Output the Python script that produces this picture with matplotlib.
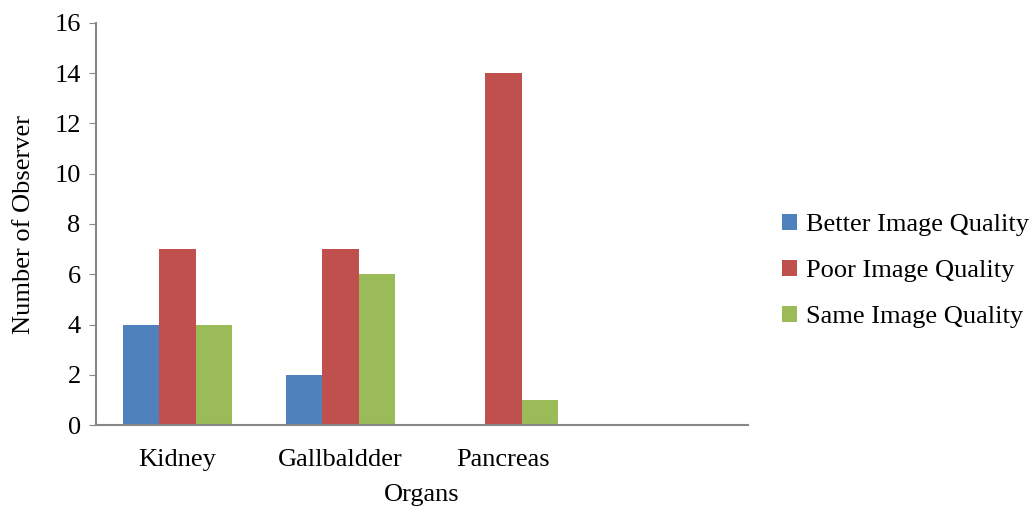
import numpy as np
from matplotlib import pyplot as plt

plt.rcParams['font.family'] = ['Liberation Serif', 'DejaVu Serif']

# Data
organs = ['Kidney', 'Gallbaldder', 'Pancreas', '']
better = [4, 2, 0, 0]
poor = [7, 7, 14, 0]
same = [4, 6, 1, 0]
series_names = ['Better Image Quality', 'Poor Image Quality', 'Same Image Quality']
colors = ['#4f81bd', '#c0504d', '#9bbb59']

fig = plt.figure(figsize=(10.36, 5.08), dpi=100)
ax = fig.add_axes([96 / 1036, (508 - 425) / 508, (748 - 96) / 1036, (425 - 23) / 508])

x = np.arange(len(organs))
w = 1 / 4.5
for i, (vals, name, c) in enumerate(zip([better, poor, same], series_names, colors)):
    ax.bar(x + (i - 1) * w, vals, width=w, color=c, label=name)

ax.set_xlim(-0.5, len(organs) - 0.5)
ax.set_ylim(0, 16)
ax.set_yticks(range(0, 17, 2))
ax.set_xticks(x)
ax.set_xticklabels(organs, fontsize=19)
ax.tick_params(axis='x', length=0, pad=17)
ax.tick_params(axis='y', labelsize=19, length=5, color='#888888', pad=6)

for s in ['top', 'right']:
    ax.spines[s].set_visible(False)
for s in ['left', 'bottom']:
    ax.spines[s].set_color('#888888')
    ax.spines[s].set_linewidth(1.5)

ax.set_xlabel('Organs', fontsize=19, labelpad=10)
ax.set_ylabel('Number of Observer', fontsize=19, labelpad=14)

fig.legend(loc='center left', bbox_to_anchor=(782 / 1036, 1 - 271 / 508), frameon=False, fontsize=19,
           handlelength=0.55, handleheight=0.55, handletextpad=0.35, labelspacing=0.9,
           borderaxespad=0, borderpad=0)

plt.savefig('out.png', dpi=100)
